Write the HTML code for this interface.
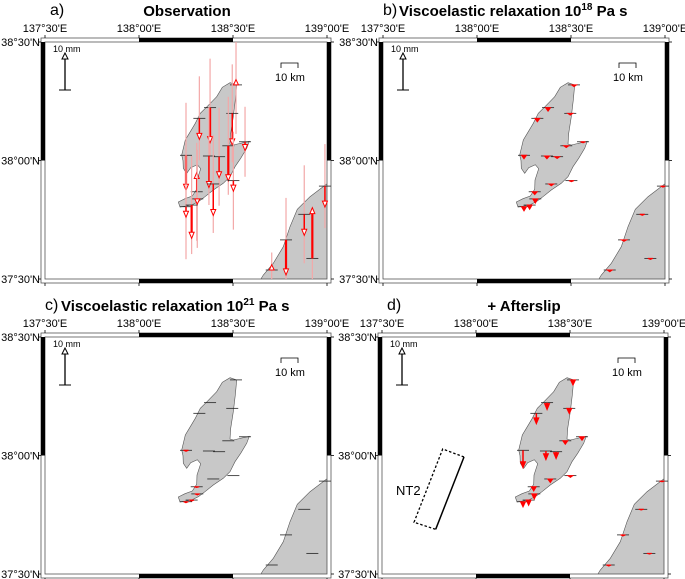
<!DOCTYPE html>
<html><head><meta charset="utf-8"><style>
body{margin:0;background:#fff}
svg{display:block;font-family:"Liberation Sans",Arial,sans-serif}
</style></head><body>
<svg id="fig" width="685" height="579" viewBox="0 0 685 579">
<defs>
<clipPath id="fc"><rect x="45" y="42" width="282" height="237"/></clipPath>
</defs>
</svg>
<script>
// station coordinates (deg)
const stationLon=[138.516,138.321,138.378,138.496,138.564,138.250,138.372,138.426,138.475,138.307,138.395,138.502,138.310,138.250,138.280,138.706,138.782,138.879,138.922,138.989];
const stationLat=[38.319,38.178,38.223,38.199,38.079,38.022,38.019,38.016,38.062,37.868,37.901,37.915,37.838,37.805,37.812,37.538,37.665,37.773,37.587,37.892];
// vertical displacement (mm)
const obsValues=[1.5,-6,-10,-9,-2.5,-10,-9,-6,-10,5.5,-9,-3,-1.5,-3,-9.5,1.5,-10,-6,14.5,-6];
const obsSigma=[14,12,14,14,10,15,14,14,14,14,14,14,14,15,14,5,12,14,14,12];
const visc18Values=[-0.5,-1,-1,-0.5,-0.3,-1,-0.8,-0.5,-0.5,-0.8,-0.5,-0.3,-1.2,-1.2,-1.2,-0.5,-0.4,-0.3,-0.3,-0.3];
const visc21Values=[0,-0.1,-0.1,0,0,-0.3,-0.1,0,0,-0.2,-0.1,0,-0.3,-0.3,-0.3,0,0,0,0,0];
const afterslipValues=[-1.5,-3,-2,-1.5,-1,-5,-2.5,-2,-1,-1.2,-1,-0.5,-1.5,-1.5,-1.5,-0.3,-0.3,-0.2,-0.2,-0.2];
const lonTicks=["137°30'E","138°00'E","138°30'E","139°00'E"];
const latTicks=["38°30'N","38°00'N","37°30'N"];

const NS="http://www.w3.org/2000/svg";
const svg=document.getElementById('fig');
function mk(t,a,p){const e=document.createElementNS(NS,t);for(const k in a)e.setAttribute(k,a[k]);(p||svg).appendChild(e);return e;}
const X0=45,X1=327,Y0=42,Y1=279;
const xS=lon=>X0+(lon-137.5)/1.5*(X1-X0);
const yS=lat=>Y0+(38.5-lat)/1.0*(Y1-Y0);
const MM=3.5;
const sado=[[690,248],[710,255],[706,300],[700,350],[692,400],[690,432],[700,435],[748,424],[740,445],[722,475],[705,500],[690,530],[670,550],[640,570],[615,590],[595,605],[575,615],[540,621],[535,606],[555,596],[577,588],[590,568],[591,540],[602,506],[592,494],[572,503],[560,520],[550,505],[549,482],[545,465],[551,440],[556,420],[571,395],[586,370],[601,340],[621,320],[650,290],[667,262]];
const main=[[778,845],[790,825],[820,790],[850,740],[870,680],[892,628],[930,590],[985,548],[1000,548],[1000,845]];
const pts=a=>a.map(p=>(p[0]/3).toFixed(1)+','+(p[1]/3).toFixed(1)).join(' ');

function panel(dx,dy,letter,title,centered,vals,sig,extra){
  const g=mk('g',{transform:`translate(${dx},${dy})`});
  
  
  const lt=mk('text',{x:centered?50:45,y:15,'font-size':16},g);
  
  lt.textContent=letter+')';
  const tt=mk('text',{x:centered?187:61,y:16,'font-size':15,'font-weight':'bold','text-anchor':centered?'middle':'start'},g);
  
  tt.innerHTML=title;
  // land
  const land=mk('g',{'clip-path':'url(#fc)'},g);
  const s=mk('polygon',{points:pts(sado),fill:'#c8c8c8',stroke:'#555','stroke-width':0.6},land);
  
  const m=mk('polygon',{points:pts(main),fill:'#c8c8c8',stroke:'#555','stroke-width':0.6},land);
  
  // frame
  const fr=mk('g',{},g);
  
  mk('rect',{x:X0-4,y:Y0-4,width:X1-X0+8,height:Y1-Y0+8,fill:'none',stroke:'#555','stroke-width':0.8},fr);
  mk('rect',{x:X0,y:Y0,width:X1-X0,height:Y1-Y0,fill:'none',stroke:'#555','stroke-width':0.8},fr);
  mk('rect',{x:xS(138),y:Y0-4,width:xS(138.5)-xS(138),height:4,fill:'#000'},fr);
  mk('rect',{x:xS(138),y:Y1,width:xS(138.5)-xS(138),height:4,fill:'#000'},fr);
  mk('rect',{x:X0-4,y:Y0,width:4,height:yS(38)-Y0,fill:'#000'},fr);
  mk('rect',{x:X1,y:Y0,width:4,height:yS(38)-Y0,fill:'#000'},fr);
  lonTicks.forEach((t,i)=>{const x=xS(137.5+i*0.5);
    mk('line',{x1:x,x2:x,y1:Y0-7,y2:Y0-4,stroke:'#000','stroke-width':0.8},fr);
    mk('line',{x1:x,x2:x,y1:Y1+4,y2:Y1+7,stroke:'#000','stroke-width':0.8},fr);
    const e=mk('text',{x:x,y:Y0-10,'font-size':11,'text-anchor':'middle'},g);
    e.textContent=t;});
  latTicks.forEach((t,i)=>{const y=yS(38.5-i*0.5);
    mk('line',{x1:X0-7,x2:X0-4,y1:y,y2:y,stroke:'#000','stroke-width':0.8},fr);
    mk('line',{x1:X1+4,x2:X1+7,y1:y,y2:y,stroke:'#000','stroke-width':0.8},fr);
    const e=mk('text',{x:X0-5,y:y+4,'font-size':11,'text-anchor':'end'},g);
    e.textContent=t;});
  // scale arrow
  const sa=mk('g',{},g);
  
  mk('line',{x1:65,x2:65,y1:90,y2:56,stroke:'#000','stroke-width':1.3},sa);
  mk('line',{x1:59,x2:71,y1:90,y2:90,stroke:'#000','stroke-width':1},sa);
  mk('polygon',{points:'65,53 62,59 68,59',fill:'#fff',stroke:'#000','stroke-width':1},sa);
  const st=mk('text',{x:53,y:52,'font-size':9},sa);st.textContent='10 mm';
  const kb=mk('g',{},g);
  
  mk('polyline',{points:'281,68 281,63 298,63 298,68',fill:'none',stroke:'#000','stroke-width':0.8},kb);
  const kt=mk('text',{x:290,y:81,'font-size':11,'text-anchor':'middle'},kb);kt.textContent='10 km';
  // stations
  stationLon.forEach((lon,i)=>{
    const x=xS(lon),y=yS(stationLat[i]);
    if(sig){const eb=mk('line',{x1:x,x2:x,y1:Math.max(Y0,y-sig[i]*MM),y2:Math.min(Y1,y+sig[i]*MM),stroke:'#f3a8a8','stroke-width':1.2},g);
      }
    const b=mk('line',{x1:x-6,x2:x+6,y1:y,y2:y,stroke:'#222','stroke-width':0.8},g);
    
    const v=vals[i],L=v*MM;
    if(Math.abs(L)<0.5)return;
    const ag=mk('g',{},g);
    
    const ty=y-L,dir=v>0?1:-1,h=Math.min(6,Math.abs(L));
    mk('line',{x1:x,x2:x,y1:y,y2:ty+dir*h*0.6,stroke:'#f00','stroke-width':sig&&Math.abs(v)>9?2.2:1.5},ag);
    mk('polygon',{points:`${x},${ty} ${x-2.5},${ty+dir*h} ${x+2.5},${ty+dir*h}`,fill:sig?'#fff':'#f00',stroke:'#f00','stroke-width':1},ag);
  });
  if(extra)extra(g);
}
panel(0,0,'a','Observation',true,obsValues,obsSigma);
panel(338,0,'b','Viscoelastic relaxation 10<tspan dy="-6" font-size="10">18</tspan><tspan dy="6"> Pa s</tspan>',false,visc18Values,null);
panel(0,295,'c','Viscoelastic relaxation 10<tspan dy="-6" font-size="10">21</tspan><tspan dy="6"> Pa s</tspan>',false,visc21Values,null);
panel(337,295,'d','+ Afterslip',true,afterslipValues,null,g=>{
  const f=mk('g',{},g);
  
  mk('polyline',{points:'127,162 105.7,154 77,227.3 98.7,234.3',fill:'none',stroke:'#000','stroke-width':1.3,'stroke-dasharray':'2.5,2'},f);
  mk('line',{x1:127,y1:162,x2:98.7,y2:234.3,stroke:'#000','stroke-width':1.5},f);
  const t=mk('text',{x:59,y:200,'font-size':13},f);t.textContent='NT2';
});
</script>
</body></html>
